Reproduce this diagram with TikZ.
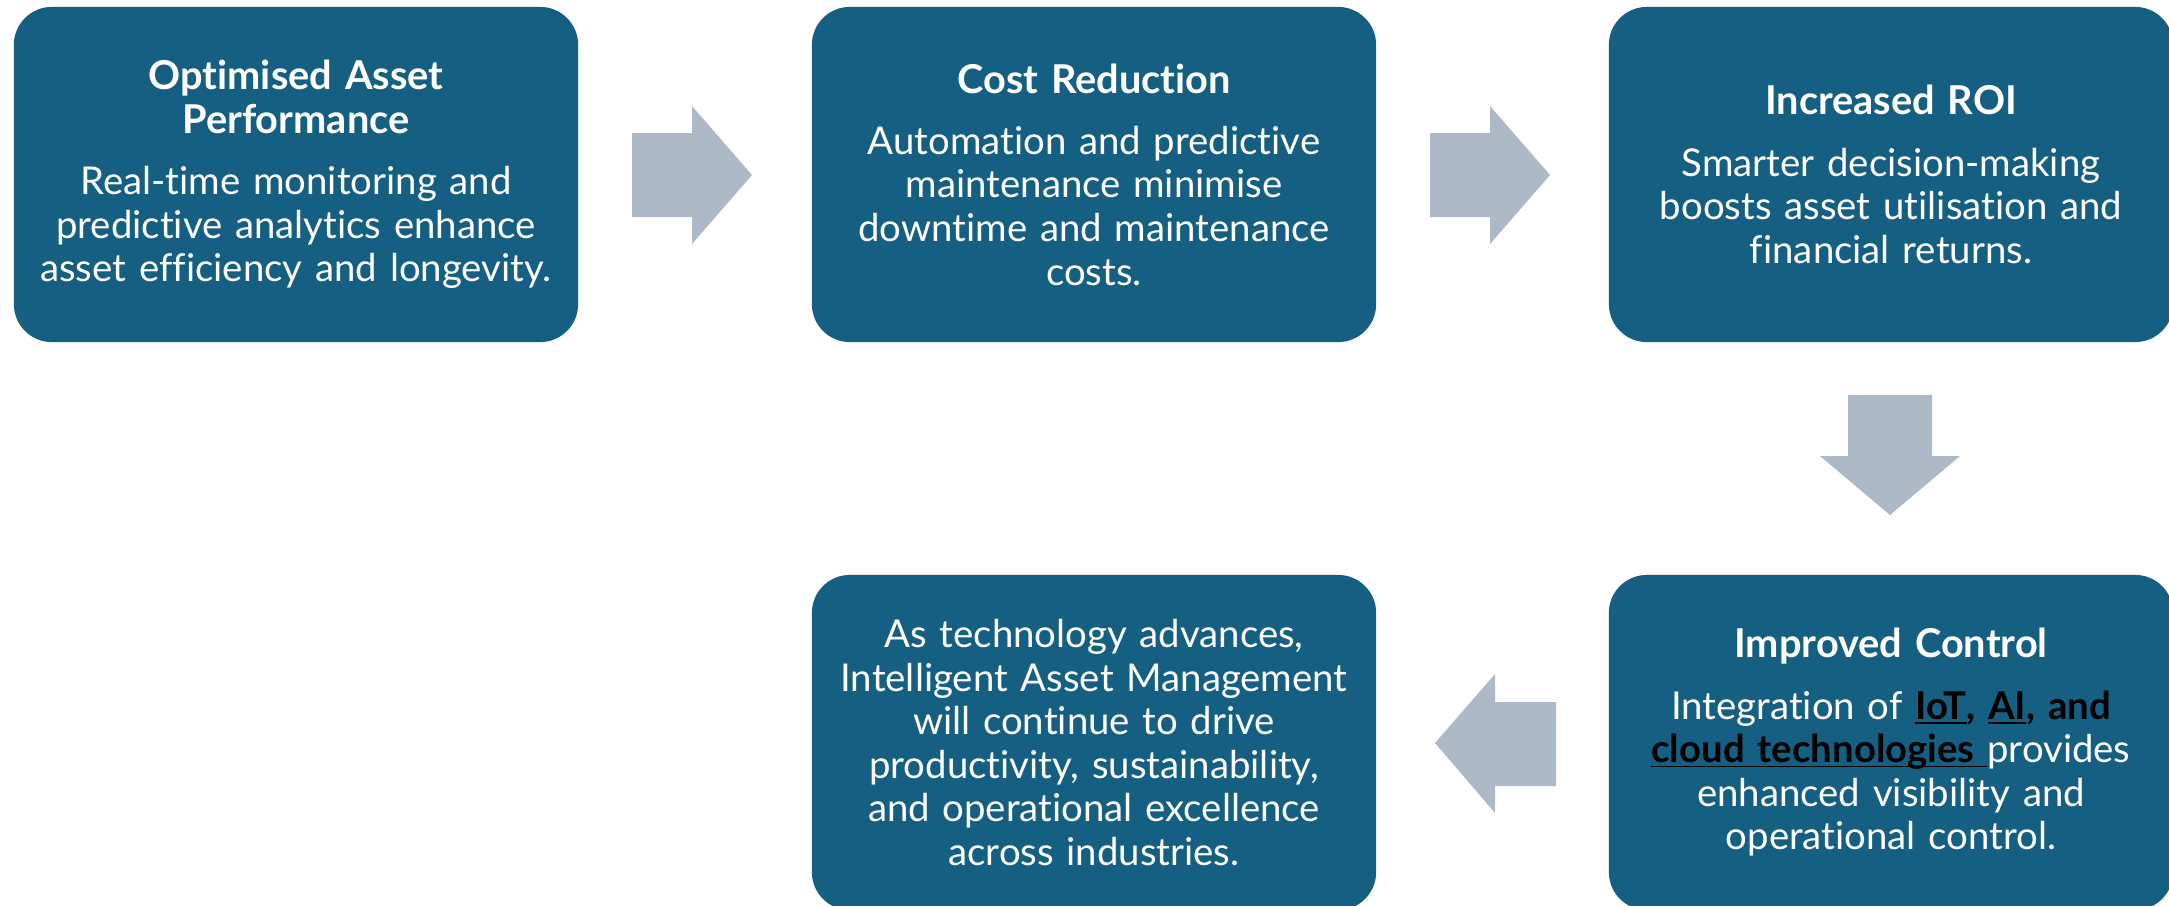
\documentclass[tikz,border=0pt]{standalone}
\usepackage{fontspec}
\setmainfont{Lato}[Ligatures=NoCommon]
\definecolor{boxblue}{HTML}{156082}
\definecolor{arrowgrey}{HTML}{ADB9C6}
\newsavebox\ulbox
\newcommand{\ulword}[1]{\leavevmode\sbox\ulbox{#1}\rlap{\rule[-1.3pt]{\wd\ulbox}{0.5pt}}\usebox\ulbox}
\newcommand{\boxtitle}[1]{{\fontsize{11.3}{12.4}\selectfont\bfseries #1}}

\begin{document}
\begin{tikzpicture}[x = .01cm, y = -.01cm,
    box/.style = {fill = boxblue, rounded corners = .38cm, minimum width = 5.64cm, minimum height = 3.35cm,
        text width = 5.6cm, align = center, text = white, inner sep = 0pt, font = \fontsize{10.9}{12.4}\selectfont},
    blockarrow/.style = {fill = arrowgrey}]
    \useasboundingbox (0,0) rectangle (2169,906);

    % top row
    \node[box] (perf) at (296,174.5) {\boxtitle{Optimised Asset}\\\boxtitle{Performance}\\[5pt]
        Real-time monitoring and\\predictive analytics enhance\\asset efficiency and longevity.};
    \node[box] (cost) at (1094,174.5) {\boxtitle{Cost Reduction}\\[5pt]
        Automation and predictive\\maintenance minimise\\downtime and maintenance\\costs.};
    \node[box] (roi) at (1891,174.5) {\boxtitle{Increased ROI}\\[5pt]
        Smarter decision-making\\boosts asset utilisation and\\financial returns.};

    % bottom row
    \node[box] (control) at (1891,742.5) {\boxtitle{Improved Control}\\[5pt]
        Integration of {\color{black}\bfseries\ulword{IoT}, \ulword{AI}, and}\\
        {\color{black}\bfseries\ulword{cloud technologies\ }}provides\\enhanced visibility and\\operational control.};
    \node[box] (outlook) at (1094,742.5) {As technology advances,\\Intelligent Asset Management\\will continue to drive\\
        productivity, sustainability,\\and operational excellence\\across industries.};

    % block arrows
    \fill[blockarrow] (632,133) -- (692,133) -- (692,106) -- (752,175) -- (692,244) -- (692,217) -- (632,217) -- cycle;
    \fill[blockarrow] (1430,133) -- (1490,133) -- (1490,106) -- (1550,175) -- (1490,244) -- (1490,217) -- (1430,217) -- cycle;
    \fill[blockarrow] (1848,395) -- (1932,395) -- (1932,456) -- (1960,456) -- (1890,515) -- (1820,456) -- (1848,456) -- cycle;
    \fill[blockarrow] (1556,702) -- (1495,702) -- (1495,674) -- (1435,743) -- (1495,813) -- (1495,786) -- (1556,786) -- cycle;
\end{tikzpicture}
\end{document}
